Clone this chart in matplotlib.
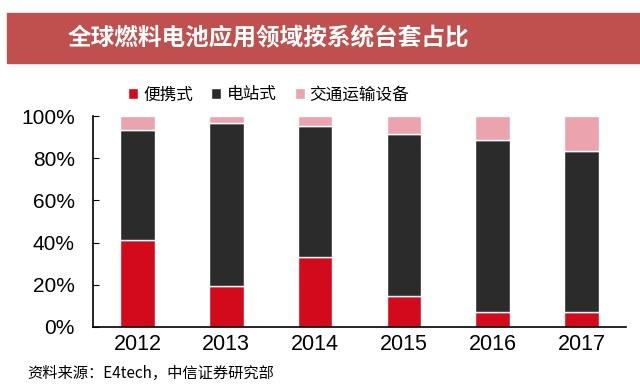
import matplotlib.pyplot as plt
import numpy as np
from matplotlib.patches import Rectangle
from matplotlib.ticker import PercentFormatter

plt.rcParams["font.family"] = ["Liberation Sans", "Noto Sans CJK SC", "DejaVu Sans"]

years = ["2012", "2013", "2014", "2015", "2016", "2017"]
portable = [41.4, 19.4, 33.2, 14.5, 7.0, 7.0]
stationary = [52.1, 77.4, 61.9, 76.8, 81.6, 76.3]
transport = [6.5, 3.2, 4.9, 8.7, 11.4, 16.7]

labels = ["便携式", "电站式", "交通运输设备"]
colors = ["#D20A1C", "#2B2B2B", "#EBA3AE"]

fig = plt.figure(figsize=(6.4, 3.88), dpi=100)

# title banner
fig.patches.append(Rectangle((7 / 640, 1 - 63 / 388), 633 / 640, 50 / 388,
                             transform=fig.transFigure, color="#C0504D", zorder=0))
fig.text(0.42, 1 - 38 / 388, "全球燃料电池应用领域按系统台套占比", color="white",
         fontsize=17, fontweight="bold", ha="center", va="center",
         family=["Noto Sans CJK SC"])

ax = fig.add_axes([93 / 640, 1 - 327 / 388, 533 / 640, 211 / 388])
x = np.arange(len(years))
w = 0.39
bottom = np.zeros(len(years))
handles = []
for vals, lab, col in zip([portable, stationary, transport], labels, colors):
    b = ax.bar(x, vals, w, bottom=bottom, color=col, edgecolor="white",
               linewidth=1.0, label=lab)
    handles.append(b)
    bottom += np.array(vals)

ax.set_xlim(-0.5, 5.5)
ax.set_ylim(0, 100)
ax.set_yticks(range(0, 101, 20))
ax.yaxis.set_major_formatter(PercentFormatter(decimals=0))
ax.set_xticks(x)
ax.set_xticklabels(years)
ax.tick_params(axis="x", length=0, labelsize=15.5, pad=5)
ax.tick_params(axis="y", direction="in", length=4, labelsize=15, pad=13)
for s in ["top", "right"]:
    ax.spines[s].set_visible(False)
ax.spines["left"].set_linewidth(1.2)
ax.spines["bottom"].set_linewidth(1.2)

fig.legend(handles=handles, labels=labels, loc="center", ncol=3,
           bbox_to_anchor=(0.42, 1 - 95 / 388), frameon=False,
           handlelength=0.6, handleheight=0.6, handletextpad=0.3,
           columnspacing=1.1, prop={"family": "Noto Sans CJK SC", "size": 12})

fig.text(27 / 640, 1 - 373 / 388, "资料来源：E4tech，中信证券研究部", fontsize=11,
         ha="left", va="center", family=["Noto Sans CJK SC"])

fig.savefig("out.png", dpi=100)
